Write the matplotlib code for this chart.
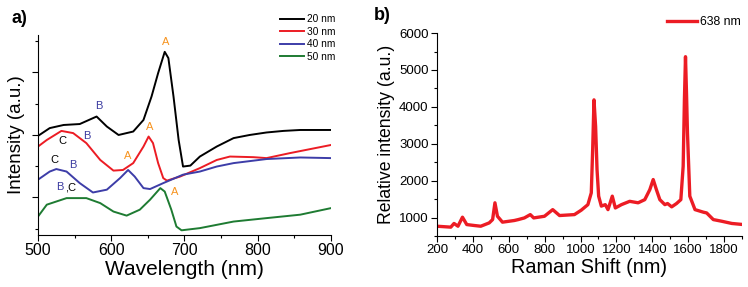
import matplotlib.pyplot as plt
from matplotlib.ticker import MultipleLocator

plt.rcParams["font.family"] = ["Liberation Sans", "DejaVu Sans"]

# ---- panel a: extinction spectra (arbitrary intensity units) ----
wl_20 = [500, 516, 535, 557, 580, 594, 610, 630, 644, 655, 664, 673, 678, 685, 692, 698,
         708, 721, 744, 767, 789, 812, 835, 858, 900]
int_20 = [2.97, 3.22, 3.32, 3.35, 3.59, 3.27, 3.0, 3.11, 3.48, 4.23, 4.98, 5.66, 5.46, 4.23,
          2.84, 1.99, 2.02, 2.31, 2.63, 2.9, 3.0, 3.08, 3.13, 3.16, 3.16]

wl_30 = [500, 512, 532, 548, 566, 585, 603, 616, 630, 644, 651, 657, 664, 671, 676, 694,
         721, 744, 762, 794, 812, 844, 900]
int_30 = [2.63, 2.84, 3.13, 3.06, 2.74, 2.2, 1.86, 1.88, 2.1, 2.63, 2.95, 2.74, 2.1, 1.62,
          1.54, 1.67, 1.94, 2.2, 2.31, 2.29, 2.26, 2.42, 2.68]

wl_40 = [500, 516, 525, 539, 557, 575, 594, 612, 623, 632, 644, 653, 671, 698, 721, 744,
         767, 812, 858, 900]
int_40 = [1.57, 1.83, 1.91, 1.83, 1.46, 1.16, 1.25, 1.62, 1.88, 1.67, 1.3, 1.27, 1.46, 1.73,
          1.83, 1.99, 2.1, 2.23, 2.28, 2.26]

wl_50 = [500, 512, 539, 566, 585, 603, 621, 639, 653, 667, 673, 682, 689, 696, 721, 767,
         812, 858, 900]
int_50 = [0.39, 0.77, 0.98, 0.98, 0.82, 0.55, 0.42, 0.61, 0.93, 1.3, 1.19, 0.61, 0.07, -0.05,
          0.02, 0.23, 0.34, 0.45, 0.66]

sizes = ["20 nm", "30 nm", "40 nm", "50 nm"]

# peak labels: (text, wavelength, intensity, colour)
peak_labels = [
    ("A", 674, 5.98, "#f7931e"), ("B", 583, 3.93, "#3b3ba0"),
    ("C", 534, 2.82, "black"), ("B", 567, 2.97, "#3b3ba0"), ("A", 652, 3.25, "#f7931e"),
    ("C", 522, 2.20, "black"), ("B", 548, 2.04, "#3b3ba0"), ("A", 622, 2.34, "#f7931e"),
    ("B", 530, 1.32, "#3b3ba0"), (",C", 544, 1.32, "black"), ("A", 687, 1.16, "#f7931e"),
]

# ---- panel b: Raman spectrum ----
shift = [200, 277, 295, 317, 342, 366, 407, 444, 491, 510, 523, 537, 565, 631, 653, 687,
         720, 739, 799, 845, 883, 966, 1004, 1041, 1060, 1068, 1075, 1084, 1092, 1101, 1116,
         1138, 1153, 1177, 1194, 1228, 1274, 1321, 1358, 1386, 1405, 1423, 1442, 1470, 1485,
         1508, 1535, 1559, 1572, 1579, 1585, 1591, 1596, 1609, 1638, 1685, 1703, 1740, 1787,
         1843, 1908]
raman = [765, 740, 840, 765, 1010, 810, 785, 765, 855, 945, 1400, 1035, 875, 920, 945, 990,
         1080, 990, 1035, 1215, 1055, 1080, 1200, 1350, 1670, 2900, 4190, 3470, 2300, 1580,
         1310, 1350, 1215, 1580, 1260, 1350, 1440, 1400, 1485, 1755, 2030, 1755, 1485, 1350,
         1380, 1290, 1380, 1485, 2390, 4200, 5360, 4300, 3290, 1580, 1215, 1145, 1125, 945,
         900, 840, 810]

colors_a = ["black", "#ec1c24", "#3d3da8", "#1e7b32"]

fig = plt.figure(figsize=(7.48, 2.87), dpi=100)
ax1 = fig.add_axes([0.0508, 0.1812, 0.3917, 0.697])
ax2 = fig.add_axes([0.5842, 0.1777, 0.4078, 0.707])

for wl, vals, c, lab in zip([wl_20, wl_30, wl_40, wl_50], [int_20, int_30, int_40, int_50],
                           colors_a, sizes):
    ax1.plot(wl, vals, color=c, lw=1.4, label=lab)

for txt, x, y, c in peak_labels:
    ax1.text(x, y, txt, color=c, fontsize=8, ha="center", va="center")

ax1.set_xlim(500, 900)
ax1.set_ylim(-0.2, 6.2)
ax1.xaxis.set_major_locator(MultipleLocator(100))
ax1.xaxis.set_minor_locator(MultipleLocator(50))
ax1.yaxis.set_major_locator(MultipleLocator(2, offset=1))
ax1.yaxis.set_minor_locator(MultipleLocator(1))
ax1.set_yticklabels([])
ax1.tick_params(axis="both", which="major", length=4, width=0.8, labelsize=11.5, pad=2)
ax1.tick_params(axis="both", which="minor", length=2, width=0.8)
ax1.set_xlabel("Wavelength (nm)", fontsize=15, labelpad=1)
ax1.set_ylabel("Intensity (a.u.)", fontsize=13.5, labelpad=3)
for s in ["top", "right"]:
    ax1.spines[s].set_visible(False)
ax1.legend(loc="upper left", bbox_to_anchor=(0.374, 0.95), bbox_transform=fig.transFigure,
           frameon=False, fontsize=7.3, handlelength=2.4, handletextpad=0.3,
           labelspacing=0.25, borderpad=0, borderaxespad=0)

ax2.plot(shift, raman, color="#ec1c24", lw=2.4, label="638 nm")
ax2.set_xlim(200, 1900)
ax2.set_ylim(500, 6000)
ax2.xaxis.set_major_locator(MultipleLocator(200))
ax2.xaxis.set_minor_locator(MultipleLocator(100))
ax2.yaxis.set_major_locator(MultipleLocator(1000))
ax2.yaxis.set_minor_locator(MultipleLocator(500))
ax2.tick_params(axis="both", which="major", length=4, width=0.8, labelsize=9.5, pad=2)
ax2.tick_params(axis="both", which="minor", length=2, width=0.8)
ax2.set_xlabel("Raman Shift (nm)", fontsize=14.3, labelpad=1)
ax2.set_ylabel("Relative intensity (a.u.)", fontsize=12.7, labelpad=3)
for s in ["top", "right"]:
    ax2.spines[s].set_visible(False)
ax2.legend(loc="upper left", bbox_to_anchor=(0.892, 0.945), bbox_transform=fig.transFigure,
           frameon=False, fontsize=8.8, handlelength=2.4, handletextpad=0.3,
           borderpad=0, borderaxespad=0)

fig.text(0.016, 0.935, "a)", fontsize=13, fontweight="bold", va="center")
fig.text(0.500, 0.945, "b)", fontsize=13, fontweight="bold", va="center")

fig.savefig("out.png", dpi=100)
